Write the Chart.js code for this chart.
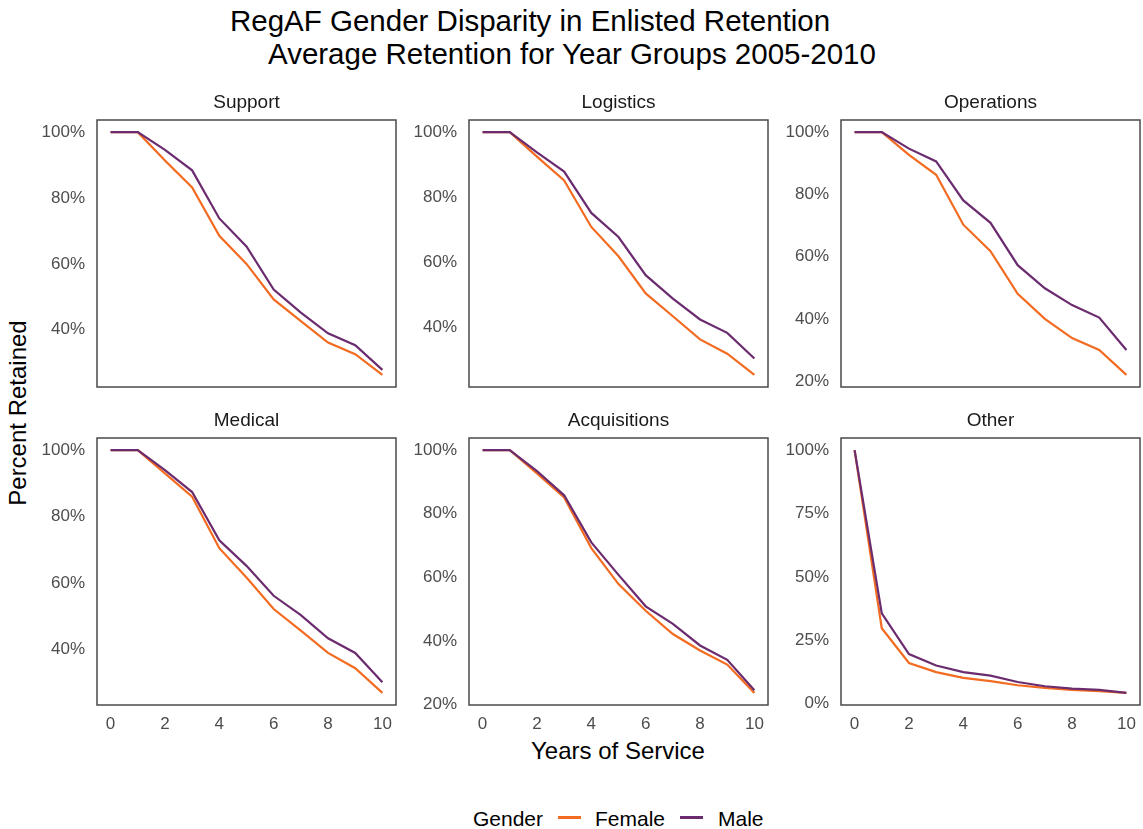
<!DOCTYPE html>
<html>
<head>
<meta charset="utf-8">
<script src="https://cdn.jsdelivr.net/npm/chart.js@4/dist/chart.umd.min.js"></script>
<style>
  html, body { margin:0; padding:0; background:#fff; }
  body { width:1143px; height:829px; position:relative; overflow:hidden; font-family:"Liberation Sans", Arial, sans-serif; }
  canvas { position:absolute; }
  .txt { position:absolute; white-space:nowrap; color:#000; line-height:1; }
  .strip { position:absolute; text-align:center; font-size:19px; color:#1a1a1a; line-height:1; }
  .sw { position:absolute; height:3px; }
</style>
</head>
<body>
<div class="txt" style="left:230px; top:6px; font-size:29.5px;">RegAF Gender Disparity in Enlisted Retention</div>
<div class="txt" style="left:268px; top:39px; font-size:29.5px;">Average Retention for Year Groups 2005-2010</div>
<div id="ytitle" class="txt" style="font-size:24px;">Percent Retained</div>
<div class="txt" style="left:618px; top:739px; font-size:24px; transform:translateX(-50%);">Years of Service</div>
<div class="txt" style="left:473px; top:808px; font-size:21px;">Gender</div>
<div class="sw" style="left:558px; top:816px; width:23px;" id="swF"></div>
<div class="txt" style="left:595px; top:808px; font-size:21px;">Female</div>
<div class="sw" style="left:680px; top:816px; width:23px;" id="swM"></div>
<div class="txt" style="left:718px; top:808px; font-size:21px;">Male</div>

<script>
// ---------------- DATA ----------------
const years = [0, 1, 2, 3, 4, 5, 6, 7, 8, 9, 10];
const seriesNames = ["Female", "Male"];
const panelNames = ["Support", "Logistics", "Operations", "Medical", "Acquisitions", "Other"];

const supportFemale      = [100, 100, 91.4, 83.2, 68.5, 60.0, 49.2, 42.6, 36.1, 32.6, 26.3];
const supportMale        = [100, 100, 94.6, 88.4, 73.8, 65.3, 52.2, 45.2, 38.9, 35.3, 27.8];
const logisticsFemale    = [100, 100, 92.5, 85.2, 70.9, 61.9, 50.5, 43.5, 36.4, 32.0, 25.5];
const logisticsMale      = [100, 100, 93.8, 87.9, 75.2, 67.8, 56.1, 48.9, 42.5, 38.4, 30.5];
const operationsFemale   = [100, 100, 92.7, 86.3, 70.3, 61.8, 48.1, 40.1, 33.9, 30.1, 22.1];
const operationsMale     = [100, 100, 94.7, 90.6, 78.1, 70.9, 57.3, 49.9, 44.5, 40.5, 30.1];
const medicalFemale      = [100, 100, 93.0, 86.0, 70.5, 61.7, 52.2, 45.7, 39.0, 34.4, 27.0];
const medicalMale        = [100, 100, 94.0, 87.4, 72.9, 65.2, 56.2, 50.4, 43.4, 39.0, 30.2];
const acquisitionsFemale = [100, 100, 92.7, 85.1, 69.2, 57.9, 49.5, 42.2, 37.0, 32.6, 23.7];
const acquisitionsMale   = [100, 100, 93.4, 85.8, 71.0, 60.8, 50.9, 45.4, 38.6, 34.1, 24.5];
const otherFemale        = [100, 29.7, 16.0, 12.4, 10.1, 8.8, 7.2, 6.2, 5.4, 4.9, 4.2];
const otherMale          = [100, 35.6, 19.5, 15.0, 12.4, 11.0, 8.5, 6.8, 5.9, 5.4, 4.2];

const xTickValues   = [0, 2, 4, 6, 8, 10];
const yTicks20      = [20, 40, 60, 80, 100];
const yTicks25      = [0, 25, 50, 75, 100];

// ---------------- STYLE / LAYOUT ----------------
const FEMALE_COLOR = "#f36b21";
const MALE_COLOR = "#6b2c6f";
document.getElementById("swF").style.background = FEMALE_COLOR;
document.getElementById("swM").style.background = MALE_COLOR;

const yt = document.getElementById("ytitle");
yt.style.left = "18px"; yt.style.top = "413px";
yt.style.transform = "translate(-50%,-50%) rotate(-90deg)";

const colLeft = [97, 469, 841];
const rowTop = [120, 438];
const PLOT_W = 299, PLOT_H = 267;
const YW = 70, XH = 34, M = 14;
const FONT = "Liberation Sans, Arial, sans-serif";

const panels = [
  { name: panelNames[0], f: supportFemale,      m: supportMale,      ticks: yTicks20, col: 0, row: 0 },
  { name: panelNames[1], f: logisticsFemale,    m: logisticsMale,    ticks: yTicks20, col: 1, row: 0 },
  { name: panelNames[2], f: operationsFemale,   m: operationsMale,   ticks: yTicks20, col: 2, row: 0 },
  { name: panelNames[3], f: medicalFemale,      m: medicalMale,      ticks: yTicks20, col: 0, row: 1 },
  { name: panelNames[4], f: acquisitionsFemale, m: acquisitionsMale, ticks: yTicks20, col: 1, row: 1 },
  { name: panelNames[5], f: otherFemale,        m: otherMale,        ticks: yTicks25, col: 2, row: 1 },
];

const borderPlugin = {
  id: "panelBorder",
  afterDraw(chart) {
    const a = chart.chartArea, ctx = chart.ctx;
    ctx.save();
    ctx.strokeStyle = "#4a4a4a";
    ctx.lineWidth = 1.5;
    ctx.strokeRect(a.left, a.top, a.right - a.left, a.bottom - a.top);
    ctx.restore();
  }
};

panels.forEach(p => {
  const showX = p.row === 1;
  const all = p.f.concat(p.m);
  const lo = Math.min(...all), hi = Math.max(...all);
  const pad = (hi - lo) * 0.05;

  const left = colLeft[p.col], top = rowTop[p.row];
  const bottomSpace = showX ? XH : M;
  const cv = document.createElement("canvas");
  const w = YW + PLOT_W + 2, h = M + PLOT_H + bottomSpace;
  cv.width = w; cv.height = h;
  cv.style.left = (left - YW) + "px";
  cv.style.top = (top - M) + "px";
  cv.style.width = w + "px"; cv.style.height = h + "px";
  document.body.appendChild(cv);

  const strip = document.createElement("div");
  strip.className = "strip";
  strip.style.left = left + "px";
  strip.style.width = PLOT_W + "px";
  strip.style.top = (top - 28) + "px";
  strip.textContent = p.name;
  document.body.appendChild(strip);

  new Chart(cv.getContext("2d"), {
    type: "line",
    data: {
      datasets: [
        { label: seriesNames[0], data: years.map((x, i) => ({ x, y: p.f[i] })), borderColor: FEMALE_COLOR, order: 1 },
        { label: seriesNames[1], data: years.map((x, i) => ({ x, y: p.m[i] })), borderColor: MALE_COLOR, order: 0 },
      ]
    },
    options: {
      responsive: false,
      animation: false,
      devicePixelRatio: 1,
      layout: { padding: { top: M, right: 2, left: 0, bottom: showX ? 0 : M } },
      plugins: { legend: { display: false }, tooltip: { enabled: false } },
      elements: { point: { radius: 0 }, line: { borderWidth: 2.2, tension: 0, fill: false } },
      scales: {
        x: {
          type: "linear", min: -0.5, max: 10.5,
          grid: { display: false, drawTicks: false }, border: { display: false },
          ticks: { display: showX, padding: 9, color: "#4d4d4d", font: { family: FONT, size: 17 } },
          afterBuildTicks: s => { s.ticks = xTickValues.map(v => ({ value: v })); },
          afterFit: s => { s.height = showX ? XH : 0; s.paddingLeft = 0; s.paddingRight = 0; }
        },
        y: {
          type: "linear", min: lo - pad, max: hi + pad,
          grid: { display: false, drawTicks: false }, border: { display: false },
          ticks: { padding: 12, color: "#4d4d4d", font: { family: FONT, size: 17 }, callback: v => v + "%" },
          afterBuildTicks: s => { s.ticks = p.ticks.filter(v => v >= s.min && v <= s.max).map(v => ({ value: v })); },
          afterFit: s => { s.width = YW; s.paddingTop = 0; s.paddingBottom = 0; }
        }
      }
    },
    plugins: [borderPlugin]
  });
});
</script>
</body>
</html>
